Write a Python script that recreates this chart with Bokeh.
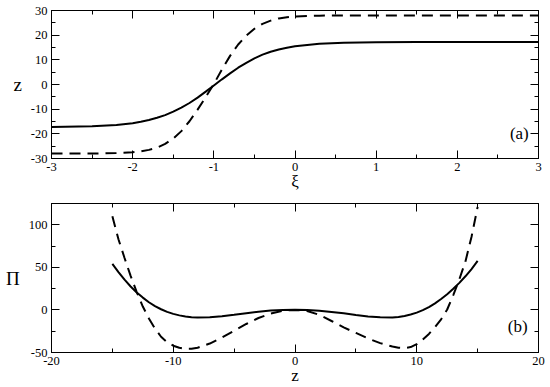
from bokeh.plotting import figure
from bokeh.models import Range1d, LinearAxis, SingleIntervalTicker, Label, CustomJSTickFormatter
from bokeh.layouts import column
from bokeh.embed import file_html
from bokeh.resources import INLINE

# ---------------- data: panel (a) ----------------
xi = [-3.0, -2.5, -2.2, -2.0, -1.9, -1.8, -1.7, -1.6, -1.5, -1.4, -1.3, -1.2, -1.1,
      -1.0, -0.9, -0.8, -0.7, -0.6, -0.5, -0.4, -0.3, -0.2, -0.1, 0.0, 0.3, 0.6,
      1.0, 1.5, 2.0, 2.5, 3.0]
z_solid = [-17.2, -16.9, -16.4, -15.7, -15.1, -14.4, -13.5, -12.4, -11.0, -9.4, -7.5,
           -5.3, -2.9, -0.4, 2.1, 4.5, 6.8, 8.8, 10.6, 12.1, 13.3, 14.2, 14.9, 15.5,
           16.5, 16.9, 17.1, 17.2, 17.2, 17.2, 17.2]
z_dashed = [-28.0, -28.0, -27.8, -27.5, -27.1, -26.5, -25.6, -24.1, -21.9, -18.9, -14.9,
            -10.2, -5.1, 0.2, 6.1, 11.6, 16.2, 19.8, 22.6, 24.6, 25.9, 26.8, 27.3, 27.6,
            27.9, 28.0, 28.0, 28.0, 28.0, 28.0, 28.0]

# ---------------- data: panel (b) ----------------
zz = [-15, -14.5, -14, -13.5, -13, -12.5, -12, -11.5, -11, -10.5, -10, -9.5, -9, -8.5,
      -8, -7, -6, -5, -4, -3, -2, -1, 0, 1, 2, 3, 4, 5, 6, 7, 8, 8.5, 9, 9.5, 10, 10.5,
      11, 11.5, 12, 12.5, 13, 13.5, 14, 14.5, 15]
pi_solid = [54, 44.5, 35.5, 27.5, 20.5, 14.5, 9, 4.5, 0.8, -2.3, -4.6, -6.4, -7.7, -8.5,
            -8.9, -8.7, -7.5, -5.7, -3.8, -2.1, -0.8, -0.1, 0.3, 0, -0.9, -2.3, -4.0,
            -5.9, -7.6, -8.7, -8.8, -8.2, -7.1, -5.4, -3.2, -0.3, 3.3, 7.7, 12.8, 18.5,
            24.8, 31.8, 39.5, 48, 57.5]
pi_dashed = [110, 83, 61, 40, 21, 4, -10, -22, -31.5, -38, -42, -44.5, -45.7, -45.6,
             -44.4, -39.5, -32.5, -24.5, -16.5, -9.5, -4.2, -1, 0, -1.3, -5.8, -13,
             -20.5, -27, -33.5, -39, -43, -44.4, -44.8, -43.6, -40.2, -34.8, -28.2,
             -20.3, -11, 0.5, 17.5, 36, 57, 86, 121]

FONT = "'Liberation Serif', 'Times New Roman', serif"


def style_axis(ax, interval, labels=True):
    ax.ticker = SingleIntervalTicker(interval=interval, num_minor_ticks=2)
    ax.major_tick_in = 8
    ax.major_tick_out = 0
    ax.minor_tick_in = 4
    ax.minor_tick_out = 0
    ax.major_tick_line_color = "black"
    ax.minor_tick_line_color = "black"
    ax.axis_line_color = "black"
    ax.major_label_text_font = FONT
    ax.major_label_text_color = "black"
    ax.axis_label_text_font = FONT
    ax.axis_label_text_font_style = "normal"
    ax.axis_label_text_color = "black"
    if labels:
        ax.formatter = CustomJSTickFormatter(code="return String(Math.round(tick));")
        ax.major_label_text_font_size = "12.5px"
        ax.major_label_standoff = 4
    else:
        ax.formatter = CustomJSTickFormatter(code="return '';")
        ax.major_label_standoff = 0
        ax.axis_line_color = None


def make_panel(xr, yr, xint, yint, xlabel, ylabel, h, mb_top, mb_bottom):
    p = figure(width=550, height=h, x_range=Range1d(*xr), y_range=Range1d(*yr),
               output_backend="svg", toolbar_location=None,
               min_border_left=51, min_border_right=12,
               min_border_top=mb_top, min_border_bottom=mb_bottom,
               x_axis_label=xlabel, y_axis_label=ylabel)
    p.xgrid.grid_line_color = None
    p.ygrid.grid_line_color = None
    p.outline_line_color = "black"
    p.outline_line_alpha = 1.0
    p.outline_line_width = 1
    style_axis(p.xaxis[0], xint)
    style_axis(p.yaxis[0], yint)
    p.xaxis[0].axis_label_standoff = -2
    p.xaxis[0].axis_label_text_font_size = "17px"
    p.yaxis[0].axis_label_standoff = 6
    p.yaxis[0].axis_label_text_font_size = "19px"
    try:
        p.yaxis[0].axis_label_orientation = "horizontal"
    except Exception:
        pass
    top = LinearAxis()
    style_axis(top, xint, labels=False)
    p.add_layout(top, "above")
    right = LinearAxis()
    style_axis(right, yint, labels=False)
    p.add_layout(right, "right")
    return p


pa = make_panel((-3, 3), (-30, 30), 1, 10, "ξ", "z", 196, 10, 38)
pa.line(xi, z_solid, line_color="black", line_width=2)
pa.line(xi, z_dashed, line_color="black", line_width=2, line_dash="11 7")
pa.add_layout(Label(x=2.88, y=-20, text="(a)", text_align="right", text_baseline="middle",
                    text_font=FONT, text_font_size="17px", text_color="black"))

pb = make_panel((-20, 20), (-50, 125), 10, 50, "z", "Π", 191, 7, 34)
pb.line(zz, pi_solid, line_color="black", line_width=2)
pb.line(zz, pi_dashed, line_color="black", line_width=2, line_dash="11 7")
pb.add_layout(Label(x=19.1, y=-19.5, text="(b)", text_align="right", text_baseline="middle",
                    text_font=FONT, text_font_size="17px", text_color="black"))

layout = column(pa, pb)
open("out.html", "w").write(file_html(layout, INLINE))
